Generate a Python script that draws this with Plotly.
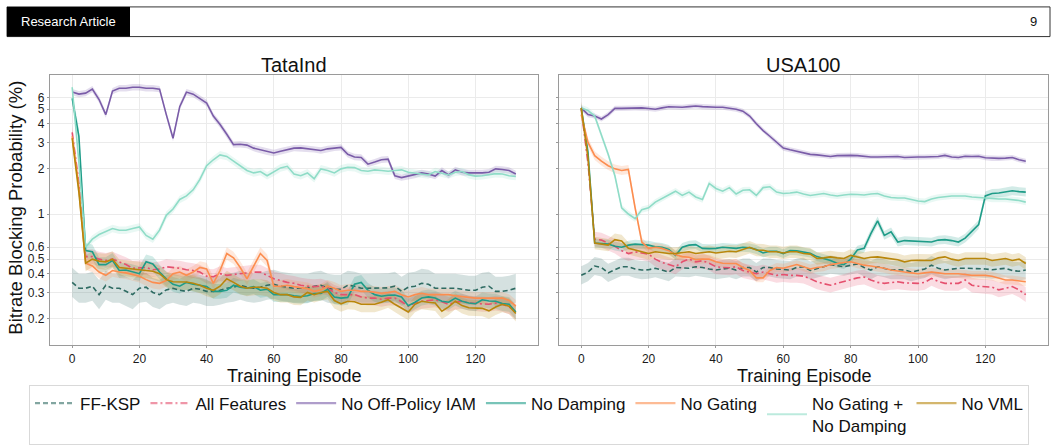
import plotly.graph_objects as go

W, H = 1058, 445

EPISODES = list(range(0, 133, 2))

SERIES_NAMES = ["FF-KSP", "All Features", "No Off-Policy IAM", "No Damping",
                "No Gating", "No Gating +<br>No Damping", "No VML"]
COLORS = ["#2E6B62", "#E5506E", "#7A5CA8", "#1E9C88", "#FC8D4F", "#8FDCC7", "#B8860B"]
DASHES = ["5px,3px", "7px,3px,2px,3px", "solid", "solid", "solid", "solid", "solid"]

# ---------------- TataInd ----------------
TATA_FFKSP = [0.35, 0.32, 0.32, 0.33, 0.29, 0.335, 0.32, 0.32, 0.305, 0.29,
              0.32, 0.325, 0.30, 0.29, 0.312, 0.32, 0.31, 0.305, 0.32, 0.315,
              0.305, 0.305, 0.31, 0.32, 0.325, 0.335, 0.325, 0.32, 0.325, 0.335,
              0.34, 0.33, 0.325, 0.32, 0.32, 0.32, 0.33, 0.335, 0.32, 0.315,
              0.315, 0.335, 0.33, 0.32, 0.32, 0.32, 0.32, 0.322, 0.33, 0.305,
              0.325, 0.33, 0.345, 0.34, 0.32, 0.32, 0.32, 0.32, 0.315, 0.31,
              0.31, 0.325, 0.33, 0.305, 0.305, 0.31, 0.32]
TATA_ALL = [3.5, 1.6, 0.52, 0.52, 0.5, 0.49, 0.5, 0.48, 0.46, 0.435,
            0.44, 0.44, 0.425, 0.43, 0.445, 0.44, 0.435, 0.425, 0.42, 0.41,
            0.385, 0.382, 0.4, 0.39, 0.395, 0.402, 0.408, 0.41, 0.41, 0.39,
            0.37, 0.36, 0.35, 0.345, 0.335, 0.33, 0.328, 0.33, 0.32, 0.3,
            0.29, 0.29, 0.29, 0.28, 0.275, 0.275, 0.27, 0.275, 0.275, 0.26,
            0.243, 0.255, 0.262, 0.265, 0.268, 0.26, 0.25, 0.258, 0.262, 0.255,
            0.253, 0.25, 0.25, 0.255, 0.25, 0.24, 0.222]
TATA_NO_OFFPOLICY = [6.5, 6.3, 6.4, 6.8, 5.8, 4.6, 6.6, 6.9, 6.9, 7.0,
                     7.0, 6.9, 6.9, 6.8, 4.6, 3.2, 5.2, 6.5, 6.3, 5.9,
                     5.5, 4.5, 3.95, 3.4, 2.9, 2.92, 2.88, 2.75, 2.68, 2.6,
                     2.55, 2.62, 2.68, 2.75, 2.76, 2.72, 2.7, 2.65, 2.72, 2.76,
                     2.78, 2.5, 2.4, 2.38, 2.15, 2.22, 2.3, 2.32, 1.8, 1.75,
                     1.79, 1.82, 1.88, 1.85, 1.79, 1.95, 1.82, 1.97, 1.9, 1.88,
                     1.87, 1.88, 1.9, 2.0, 1.98, 1.95, 1.85]
TATA_NO_DAMPING = [5.9, 3.3, 0.57, 0.56, 0.46, 0.46, 0.49, 0.42, 0.423, 0.41,
                   0.40, 0.48, 0.465, 0.41, 0.37, 0.34, 0.33, 0.35, 0.34, 0.335,
                   0.328, 0.305, 0.305, 0.31, 0.335, 0.325, 0.32, 0.328, 0.31, 0.315,
                   0.29, 0.29, 0.29, 0.285, 0.282, 0.285, 0.295, 0.295, 0.315, 0.28,
                   0.275, 0.278, 0.34, 0.35, 0.31, 0.29, 0.283, 0.287, 0.288, 0.28,
                   0.245, 0.258, 0.275, 0.28, 0.275, 0.262, 0.258, 0.275, 0.262, 0.255,
                   0.252, 0.268, 0.263, 0.262, 0.253, 0.25, 0.222]
TATA_NO_GATING = [3.3, 1.5, 0.47, 0.45, 0.41, 0.39, 0.42, 0.41, 0.405, 0.395,
                  0.385, 0.365, 0.35, 0.345, 0.36, 0.40, 0.41, 0.39, 0.41, 0.44,
                  0.43, 0.345, 0.42, 0.545, 0.51, 0.44, 0.37, 0.45, 0.545, 0.49,
                  0.33, 0.33, 0.335, 0.328, 0.322, 0.318, 0.305, 0.312, 0.33, 0.32,
                  0.305, 0.31, 0.31, 0.305, 0.305, 0.30, 0.296, 0.30, 0.305, 0.29,
                  0.28, 0.29, 0.296, 0.29, 0.29, 0.292, 0.29, 0.285, 0.28, 0.278,
                  0.275, 0.275, 0.275, 0.278, 0.275, 0.265, 0.243]
TATA_NO_GATING_DAMPING = [7.0, 2.2, 0.6, 0.68, 0.73, 0.76, 0.8, 0.78, 0.78, 0.8,
                          0.82, 0.72, 0.68, 0.78, 0.98, 1.08, 1.25, 1.32, 1.45, 1.7,
                          2.1, 2.3, 2.48, 2.42, 2.25, 2.08, 1.95, 1.88, 1.92, 1.8,
                          1.9, 2.03, 2.08, 1.85, 1.8, 1.88, 1.72, 2.0, 1.95, 1.88,
                          2.0, 2.05, 2.04, 1.95, 1.93, 1.97, 1.95, 1.93, 1.95, 1.97,
                          1.9, 1.88, 1.85, 1.82, 1.92, 1.87, 1.82, 1.9, 1.92, 1.83,
                          1.79, 1.8, 1.82, 1.86, 1.85, 1.8, 1.78]
TATA_NO_VML = [3.2, 1.4, 0.47, 0.5, 0.485, 0.48, 0.5, 0.44, 0.435, 0.43,
               0.423, 0.423, 0.415, 0.40, 0.365, 0.353, 0.353, 0.352, 0.345, 0.335,
               0.32, 0.31, 0.33, 0.37, 0.35, 0.33, 0.32, 0.325, 0.325, 0.32,
               0.30, 0.29, 0.29, 0.28, 0.278, 0.30, 0.29, 0.30, 0.305, 0.265,
               0.252, 0.262, 0.26, 0.25, 0.25, 0.25, 0.258, 0.268, 0.25, 0.235,
               0.222, 0.25, 0.262, 0.258, 0.255, 0.225, 0.24, 0.262, 0.245, 0.237,
               0.237, 0.235, 0.226, 0.24, 0.25, 0.243, 0.217]

# ---------------- USA100 ----------------
USA_FFKSP = [0.39, 0.41, 0.45, 0.44, 0.405, 0.425, 0.445, 0.445, 0.43, 0.423,
             0.425, 0.435, 0.42, 0.41, 0.44, 0.44, 0.435, 0.445, 0.44, 0.43,
             0.423, 0.43, 0.435, 0.423, 0.44, 0.44, 0.41, 0.44, 0.44, 0.43,
             0.425, 0.423, 0.44, 0.445, 0.42, 0.43, 0.445, 0.46, 0.455, 0.445,
             0.455, 0.465, 0.44, 0.423, 0.445, 0.435, 0.423, 0.425, 0.423, 0.41,
             0.42, 0.43, 0.456, 0.435, 0.423, 0.43, 0.435, 0.435, 0.435, 0.435,
             0.43, 0.425, 0.43, 0.435, 0.42, 0.415, 0.423]
USA_ALL = [5.0, 2.2, 0.68, 0.67, 0.64, 0.61, 0.57, 0.545, 0.56, 0.55,
           0.54, 0.5, 0.475, 0.46, 0.445, 0.48, 0.5, 0.48, 0.488, 0.47,
           0.445, 0.44, 0.438, 0.445, 0.42, 0.41, 0.4, 0.41, 0.4, 0.39,
           0.395, 0.39, 0.39, 0.385, 0.37, 0.353, 0.343, 0.335, 0.345, 0.353,
           0.365, 0.375, 0.38, 0.363, 0.35, 0.345, 0.35, 0.353, 0.347, 0.345,
           0.345, 0.35, 0.372, 0.355, 0.345, 0.345, 0.345, 0.363, 0.335, 0.33,
           0.328, 0.325, 0.312, 0.32, 0.328, 0.312, 0.29]
USA_NO_OFFPOLICY = [5.1, 4.6, 4.5, 4.3, 4.6, 5.06, 5.06, 5.08, 5.1, 5.1,
                    5.05, 5.0, 5.1, 5.19, 5.17, 5.15, 5.2, 5.25, 5.2, 5.15,
                    5.15, 5.15, 5.1, 5.0, 4.85, 4.5, 4.0, 3.6, 3.3, 3.0,
                    2.75, 2.68, 2.62, 2.55, 2.5, 2.48, 2.46, 2.42, 2.45, 2.46,
                    2.46, 2.45, 2.42, 2.4, 2.4, 2.4, 2.42, 2.42, 2.38, 2.4,
                    2.4, 2.4, 2.41, 2.42, 2.46, 2.4, 2.38, 2.43, 2.42, 2.43,
                    2.37, 2.35, 2.35, 2.36, 2.38, 2.3, 2.25]
USA_NO_DAMPING = [5.1, 2.6, 0.64, 0.634, 0.63, 0.61, 0.6, 0.62, 0.63, 0.625,
                  0.62, 0.605, 0.6, 0.58, 0.53, 0.6, 0.62, 0.625, 0.59, 0.588,
                  0.59, 0.6, 0.595, 0.59, 0.6, 0.595, 0.58, 0.55, 0.565, 0.565,
                  0.545, 0.57, 0.568, 0.56, 0.548, 0.52, 0.505, 0.49, 0.47, 0.46,
                  0.5, 0.575, 0.59, 0.74, 0.9, 0.72, 0.76, 0.65, 0.665, 0.66,
                  0.66, 0.655, 0.65, 0.67, 0.675, 0.665, 0.65, 0.69, 0.76, 0.85,
                  1.32, 1.37, 1.38, 1.4, 1.43, 1.41, 1.4]
USA_NO_GATING = [4.6, 3.0, 2.45, 2.25, 2.1, 2.0, 1.95, 1.98, 1.1, 0.65,
                 0.59, 0.6, 0.59, 0.57, 0.535, 0.52, 0.515, 0.495, 0.5, 0.5,
                 0.48, 0.47, 0.468, 0.468, 0.44, 0.42, 0.375, 0.375, 0.42, 0.44,
                 0.435, 0.445, 0.46, 0.445, 0.43, 0.44, 0.445, 0.46, 0.47, 0.475,
                 0.48, 0.465, 0.456, 0.45, 0.445, 0.435, 0.423, 0.415, 0.41, 0.405,
                 0.4, 0.405, 0.41, 0.405, 0.4, 0.4, 0.4, 0.395, 0.39, 0.39,
                 0.39, 0.385, 0.375, 0.363, 0.363, 0.36, 0.353]
USA_NO_GATING_DAMPING = [5.1, 4.9, 4.5, 3.4, 2.5, 1.8, 1.1, 1.0, 0.93, 1.07,
                         1.1, 1.2, 1.27, 1.35, 1.42, 1.33, 1.4, 1.3, 1.25, 1.6,
                         1.48, 1.42, 1.5, 1.36, 1.44, 1.45, 1.33, 1.5, 1.52, 1.4,
                         1.37, 1.38, 1.4, 1.36, 1.33, 1.35, 1.37, 1.34, 1.32, 1.34,
                         1.355, 1.35, 1.34, 1.36, 1.37, 1.32, 1.29, 1.28, 1.28, 1.25,
                         1.22, 1.21, 1.26, 1.29, 1.31, 1.32, 1.32, 1.32, 1.3, 1.29,
                         1.28, 1.26, 1.26, 1.26, 1.25, 1.23, 1.2]
USA_NO_VML = [5.1, 2.4, 0.64, 0.63, 0.62, 0.675, 0.66, 0.59, 0.575, 0.56,
              0.545, 0.56, 0.55, 0.545, 0.545, 0.55, 0.56, 0.545, 0.55, 0.56,
              0.55, 0.56, 0.565, 0.56, 0.58, 0.6, 0.575, 0.573, 0.56, 0.56,
              0.55, 0.56, 0.56, 0.545, 0.54, 0.505, 0.51, 0.518, 0.51, 0.505,
              0.53, 0.52, 0.505, 0.515, 0.518, 0.51, 0.505, 0.495, 0.48, 0.49,
              0.492, 0.49, 0.49, 0.51, 0.518, 0.5, 0.49, 0.505, 0.505, 0.505,
              0.505, 0.49, 0.495, 0.505, 0.49, 0.5, 0.468]

# relative half-width of the confidence bands, per series
TATA_BAND = [0.25, 0.12, 0.05, 0.12, 0.10, 0.06, 0.13]
USA_BAND = [0.15, 0.12, 0.04, 0.07, 0.07, 0.05, 0.10]

TATA = [TATA_FFKSP, TATA_ALL, TATA_NO_OFFPOLICY, TATA_NO_DAMPING,
        TATA_NO_GATING, TATA_NO_GATING_DAMPING, TATA_NO_VML]
USA = [USA_FFKSP, USA_ALL, USA_NO_OFFPOLICY, USA_NO_DAMPING,
       USA_NO_GATING, USA_NO_GATING_DAMPING, USA_NO_VML]

for s in TATA + USA:
    assert len(s) == len(EPISODES), len(s)

Y_TICKS = [0.2, 0.3, 0.4, 0.5, 0.6, 1, 2, 3, 4, 5, 6]
Y_TICKTEXT = ["0.2", "0.3", "0.4", "0.5", "0.6", "1", "2", "3", "4", "5", "6"]
X_TICKS = [0, 20, 40, 60, 80, 100, 120]

FONT = "Liberation Sans, Arial, Helvetica, sans-serif"


def rgba(hexc, a):
    h = hexc.lstrip("#")
    r, g, b = int(h[0:2], 16), int(h[2:4], 16), int(h[4:6], 16)
    return f"rgba({r},{g},{b},{a})"


def px(x):
    return x / W


def py(y):
    return 1 - y / H


fig = go.Figure()

for data, bands, xa, ya in [(TATA, TATA_BAND, "x", "y"), (USA, USA_BAND, "x2", "y2")]:
    # bands first
    for vals, b, col in zip(data, bands, COLORS):
        upper = [v * (1 + b) for v in vals]
        lower = [v / (1 + b) for v in vals]
        fig.add_trace(go.Scatter(
            x=EPISODES + EPISODES[::-1], y=upper + lower[::-1],
            fill="toself", fillcolor=rgba(col, 0.2), line=dict(width=0),
            mode="lines", hoverinfo="skip", showlegend=False, xaxis=xa, yaxis=ya))
    for vals, col, dash, name in zip(data, COLORS, DASHES, SERIES_NAMES):
        fig.add_trace(go.Scatter(
            x=EPISODES, y=vals, mode="lines", name=name,
            line=dict(color=col, width=1.6, dash=dash),
            showlegend=False, xaxis=xa, yaxis=ya))

# legend entries (lighter keys, as in the original)
for col, dash, name in zip(COLORS, DASHES, SERIES_NAMES):
    fig.add_trace(go.Scatter(x=[None], y=[None], mode="lines", name=name,
                             line=dict(color=rgba(col, 0.6), width=2.2, dash=dash),
                             showlegend=True))

axis_common = dict(showgrid=True, gridcolor="#EBEBEB", gridwidth=1, zeroline=False,
                   showline=True, linecolor="#9A9A9A", linewidth=1.2, mirror=True,
                   ticks="outside", ticklen=2, tickcolor="#9A9A9A",
                   tickfont=dict(size=12, color="#1a1a1a", family=FONT),
                   automargin=False)

y_dom = [py(349), py(76)]
fig.update_layout(
    width=W, height=H, template="none",
    margin=dict(l=0, r=0, t=0, b=0),
    paper_bgcolor="white", plot_bgcolor="white",
    font=dict(family=FONT, color="#111"),
    xaxis=dict(domain=[px(50), px(538)], range=[-6.6, 138.6], tickvals=X_TICKS,
               anchor="y", **axis_common),
    yaxis=dict(domain=y_dom, type="log", range=[-0.874, 0.926], tickvals=Y_TICKS,
               ticktext=Y_TICKTEXT, anchor="x", **axis_common),
    xaxis2=dict(domain=[px(559), px(1048)], range=[-6.6, 138.6], tickvals=X_TICKS,
                anchor="y2", **axis_common),
    yaxis2=dict(domain=y_dom, type="log", range=[-0.874, 0.926], tickvals=Y_TICKS,
                showticklabels=False, anchor="x2", **axis_common),
    showlegend=True,
    legend=dict(orientation="h", x=0.5, xanchor="center", y=py(389), yanchor="top",
                bordercolor="#D9D9D9", borderwidth=1, bgcolor="white",
                font=dict(size=17, family=FONT, color="#111"),
                itemwidth=40, tracegroupgap=0),
)

annotations = [
    dict(text="TataInd", x=px(294), y=py(66), xref="paper", yref="paper",
         showarrow=False, font=dict(size=20, family=FONT, color="#111"),
         xanchor="center", yanchor="middle"),
    dict(text="USA100", x=px(803.5), y=py(66), xref="paper", yref="paper",
         showarrow=False, font=dict(size=20, family=FONT, color="#111"),
         xanchor="center", yanchor="middle"),
    dict(text="Training Episode", x=px(294), y=py(380), xref="paper", yref="paper",
         showarrow=False, font=dict(size=18, family=FONT, color="#111"),
         xanchor="center", yanchor="middle"),
    dict(text="Training Episode", x=px(803.5), y=py(380), xref="paper", yref="paper",
         showarrow=False, font=dict(size=18, family=FONT, color="#111"),
         xanchor="center", yanchor="middle"),
    dict(text="Bitrate Blocking Probability (%)", x=px(16), y=py(210), xref="paper",
         yref="paper", showarrow=False, textangle=-90,
         font=dict(size=18.5, family=FONT, color="#111"),
         xanchor="center", yanchor="middle"),
    dict(text="Research Article", x=px(19), y=py(22), xref="paper", yref="paper",
         showarrow=False, font=dict(size=13, family=FONT, color="white"),
         xanchor="left", yanchor="middle"),
    dict(text="9", x=px(1039), y=py(22), xref="paper", yref="paper",
         showarrow=False, font=dict(size=13, family=FONT, color="#111"),
         xanchor="right", yanchor="middle"),
]
fig.update_layout(annotations=annotations)

fig.update_layout(shapes=[
    dict(type="rect", xref="paper", yref="paper", x0=px(7), x1=px(1050),
         y0=py(37), y1=py(7), line=dict(color="#333", width=1), fillcolor="white",
         layer="below"),
    dict(type="rect", xref="paper", yref="paper", x0=px(7), x1=px(130),
         y0=py(37), y1=py(7), line=dict(width=0), fillcolor="black", layer="below"),
])

fig.write_html("out.html")
